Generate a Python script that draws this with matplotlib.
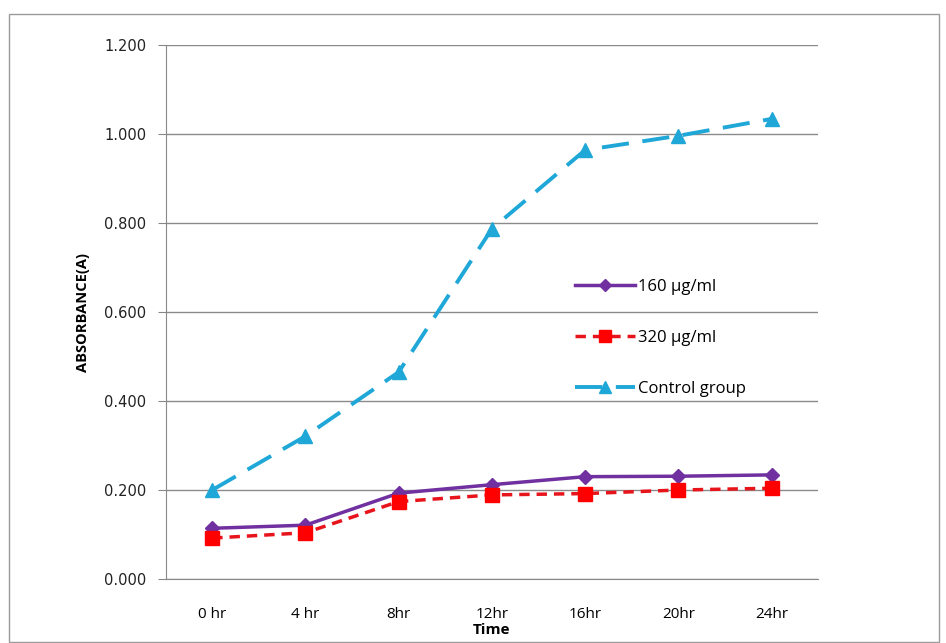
import matplotlib
matplotlib.use("Agg")
import matplotlib.pyplot as plt
import matplotlib.patches as patches
import numpy as np

times = ["0 hr", "4 hr", "8hr", "12hr", "16hr", "20hr", "24hr"]
conc_160 = [0.114, 0.121, 0.193, 0.212, 0.230, 0.231, 0.234]
conc_320 = [0.092, 0.104, 0.174, 0.189, 0.192, 0.200, 0.204]
control = [0.200, 0.321, 0.465, 0.787, 0.964, 0.996, 1.034]

fig = plt.figure(figsize=(9.46, 6.43), dpi=100)
ax = fig.add_axes([0.175, 0.0995, 0.69, 0.8305])

# outer chart border
fig.patches.append(patches.Rectangle((0.010, 0.002), 0.983, 0.977, transform=fig.transFigure,
                                     fill=False, edgecolor="#9a9a9a", linewidth=1.0))

x = np.arange(len(times))
ax.plot(x, conc_160, color="#7030A0", linewidth=2.5, marker="D", markersize=7,
        label="160 \u00b5g/ml", zorder=3)
ax.plot(x, conc_320, color="#E8141B", linewidth=2.5, linestyle=(0, (3, 2)), marker="s",
        markersize=10, markerfacecolor="#FF0000", markeredgecolor="#FF0000",
        label="320 \u00b5g/ml", zorder=4)
ax.plot(x, control, color="#1FA7D8", linewidth=2.8, linestyle=(0, (7, 3.5)), marker="^",
        markersize=10, label="Control group", zorder=3)

ax.set_xlim(-0.5, len(times) - 0.5)
ax.set_ylim(0, 1.2)
ax.set_yticks(np.arange(0, 1.201, 0.2))
ax.set_yticklabels(["%.3f" % v for v in np.arange(0, 1.201, 0.2)], fontsize=10.5,
                   family="DejaVu Sans", color="#222222")
ax.set_xticks(x)
ax.set_xticklabels(times, fontsize=11, family="Open Sans")
ax.tick_params(axis="x", length=0, pad=20)
ax.tick_params(axis="y", length=6, color="#888888", direction="out", pad=8)
ax.yaxis.grid(True, color="#8a8a8a", linewidth=1.0)
ax.set_axisbelow(True)
for s in ["top", "right"]:
    ax.spines[s].set_visible(False)
ax.spines["left"].set_color("#888888")
ax.spines["bottom"].set_color("#888888")

ax.set_ylabel("ABSORBANCE(A)", fontsize=10.5, fontweight="bold", family="Open Sans",
              labelpad=10)
ax.set_xlabel("Time", fontsize=11, fontweight="bold", family="Open Sans", labelpad=1)

ax.legend(loc="upper left", bbox_to_anchor=(0.605, 0.59), frameon=False,
          handlelength=3.6, handletextpad=0.15, labelspacing=2.1, markerscale=0.85,
          prop={"family": "Open Sans", "size": 12})

fig.savefig("out.png", dpi=100)
